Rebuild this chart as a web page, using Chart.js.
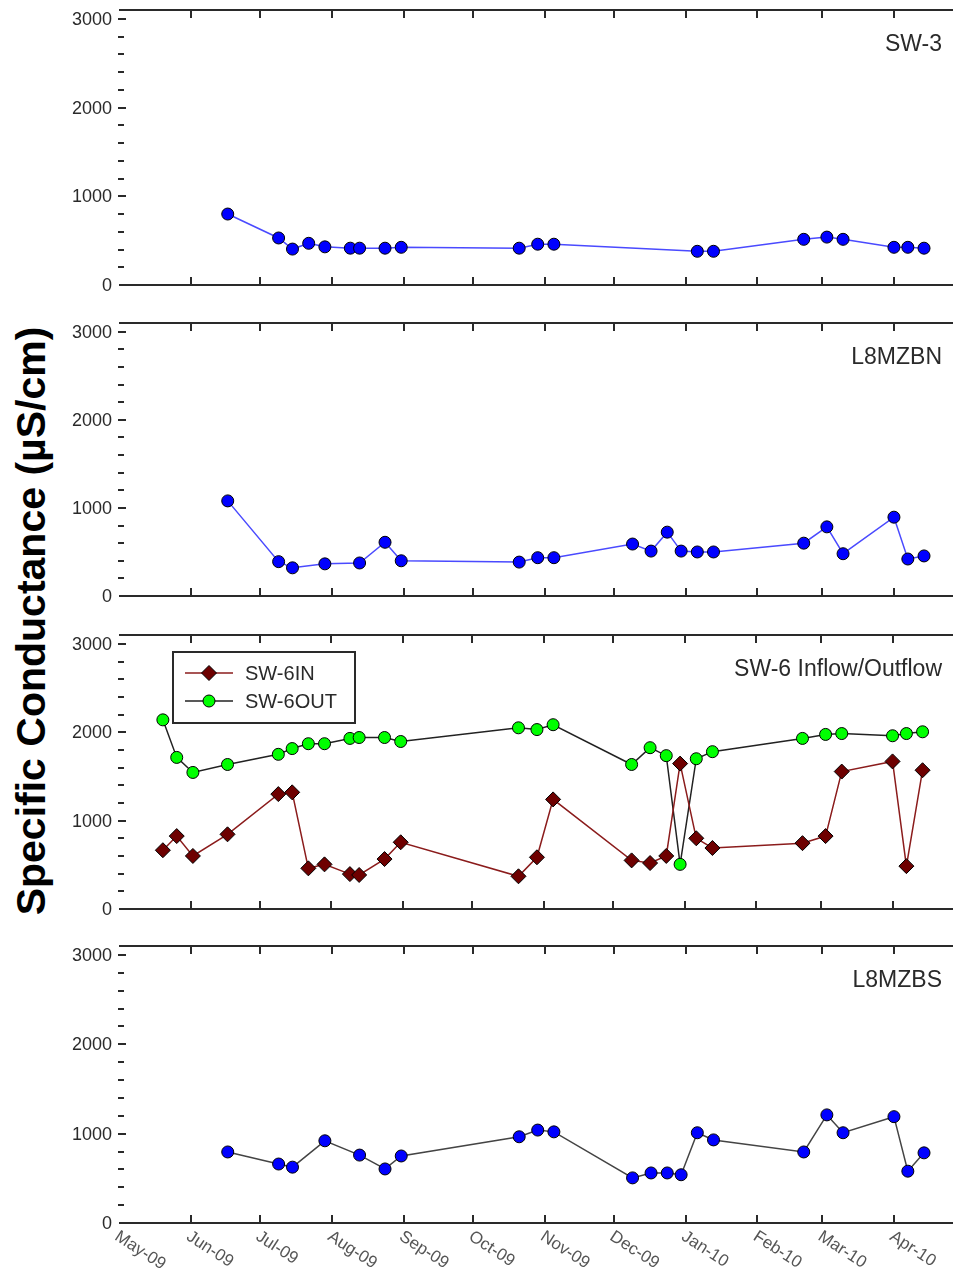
<!DOCTYPE html>
<html>
<head>
<meta charset="utf-8">
<script src="https://cdn.jsdelivr.net/npm/chart.js@4.4.0/dist/chart.umd.min.js"></script>
<style>
body{margin:0;background:#fff;width:953px;height:1272px;position:relative;overflow:hidden;font-family:"Liberation Sans",Arial,sans-serif}
canvas{position:absolute;left:0}
#ytitle{position:absolute;left:31px;top:621px;transform:translate(-50%,-50%) rotate(-90deg);font-weight:bold;font-size:41px;white-space:nowrap;color:#000}
</style>
</head>
<body>
<div id="ytitle">Specific Conductance (µS/cm)</div>
<canvas id="p1" width="953" height="300" style="top:0"></canvas>
<canvas id="p2" width="953" height="310" style="top:300px"></canvas>
<canvas id="p3" width="953" height="320" style="top:610px"></canvas>
<canvas id="p4" width="953" height="342" style="top:930px"></canvas>
<script>
// eje x: inicio de cada mes y su etiqueta
const monthStarts = ['2009-05-01','2009-06-01','2009-07-01','2009-08-01','2009-09-01','2009-10-01',
  '2009-11-01','2009-12-01','2010-01-01','2010-02-01','2010-03-01','2010-04-01'];
const monthLabels = ['May-09','Jun-09','Jul-09','Aug-09','Sep-09','Oct-09',
  'Nov-09','Dec-09','Jan-10','Feb-10','Mar-10','Apr-10'];
const yTicks = [0, 1000, 2000, 3000];

// fechas de muestreo (compartidas por todos los paneles)
const sampleDates = ['2009-05-20','2009-05-26','2009-06-02','2009-06-17','2009-07-09','2009-07-15',
  '2009-07-22','2009-07-29','2009-08-09','2009-08-13','2009-08-24','2009-08-31','2009-10-21',
  '2009-10-29','2009-11-05','2009-12-09','2009-12-17','2009-12-24','2009-12-30','2010-01-06',
  '2010-01-13','2010-02-21','2010-03-03','2010-03-10','2010-04-01','2010-04-07','2010-04-14'];

const sw3    = [null,null,null,800,530,405,470,430,415,415,415,425,415,460,460,null,null,null,null,380,380,515,540,515,425,425,415];
const l8mzbn = [null,null,null,1080,390,320,null,365,null,375,610,400,385,435,435,590,510,725,510,500,500,600,785,480,895,420,455];
const sw6in  = [665,825,600,845,1300,1320,460,505,395,385,565,755,370,585,1240,550,520,600,1645,800,690,745,825,1555,1670,485,1570];
const sw6out = [2140,1715,1545,1635,1750,1815,1870,1870,1930,1940,1940,1895,2050,2030,2085,1635,1825,1735,505,1700,1780,1930,1975,1985,1960,1985,2005];
const l8mzbs = [null,null,null,795,660,625,null,920,null,760,605,750,965,1040,1020,505,560,560,540,1010,930,795,1210,1010,1190,580,785];

const DAY0 = Date.UTC(2009, 4, 1);
function dayOf(s){
  const [y, m, d] = s.split('-').map(Number);
  return (Date.UTC(y, m - 1, d) - DAY0) / 86400000;
}
function pts(vals){
  return sampleDates.map((d, i) => ({x: dayOf(d), y: vals[i]})).filter(p => p.y !== null);
}

const FONT = '"Liberation Sans", Arial, sans-serif';
const INK = '#2a2a2a';

function marker(ctx, style, r, x, y, fill){
  ctx.beginPath();
  if (style === 'rectRot'){
    ctx.moveTo(x, y - r); ctx.lineTo(x + r, y); ctx.lineTo(x, y + r); ctx.lineTo(x - r, y); ctx.closePath();
  } else {
    ctx.arc(x, y, r, 0, Math.PI * 2);
  }
  ctx.fillStyle = fill; ctx.fill();
  ctx.lineWidth = 1; ctx.strokeStyle = '#000'; ctx.stroke();
}

// ejes, marcas y textos dibujados a mano
const panelDecor = {
  id: 'panelDecor',
  beforeDatasetsDraw(chart){
    const {ctx, chartArea: a, scales: {x, y}} = chart;
    const seg = (x1, y1, x2, y2) => { ctx.beginPath(); ctx.moveTo(x1, y1); ctx.lineTo(x2, y2); ctx.stroke(); };
    ctx.save();
    ctx.strokeStyle = INK; ctx.lineWidth = 2;
    seg(a.left, a.top, chart.width, a.top);
    seg(a.left, a.bottom, chart.width, a.bottom);
    monthStarts.forEach(s => {
      const px = Math.round(x.getPixelForValue(dayOf(s)));
      if (px < a.left + 3) return;
      seg(px, a.top, px, a.top + 8);
      seg(px, a.bottom, px, a.bottom - 8);
    });
    for (let v = 200; v <= 3000; v += 200){
      const py = Math.round(y.getPixelForValue(v));
      seg(a.left - 1, py, a.left + (v % 1000 === 0 ? 7 : 5), py);
    }
    ctx.restore();
  },
  afterDraw(chart, args, o){
    const {ctx, chartArea: a, scales: {x, y}} = chart;
    ctx.save();
    ctx.fillStyle = INK;
    ctx.font = '18px ' + FONT; ctx.textAlign = 'right'; ctx.textBaseline = 'middle';
    yTicks.forEach(v => ctx.fillText(String(v), a.left - 7, y.getPixelForValue(v) + 1));
    ctx.font = '23px ' + FONT;
    ctx.fillText(o.title, chart.width - 11, a.top + 35);

    if (o.months){
      ctx.font = '17px ' + FONT; ctx.fillStyle = '#555'; ctx.textAlign = 'left'; ctx.textBaseline = 'top';
      monthStarts.forEach((s, i) => {
        const px = x.getPixelForValue(dayOf(s));
        ctx.save();
        ctx.translate(px + 2, a.bottom + 5);
        ctx.rotate(33 * Math.PI / 180);
        ctx.fillText(monthLabels[i], 0, 0);
        ctx.restore();
      });
    }

    if (o.legend){
      const bx = a.left + 54, by = a.top + 17, bw = 182, bh = 71;
      ctx.fillStyle = '#fff'; ctx.fillRect(bx, by, bw, bh);
      ctx.strokeStyle = INK; ctx.lineWidth = 2; ctx.strokeRect(bx, by, bw, bh);
      chart.data.datasets.forEach((ds, i) => {
        const ry = by + 21 + i * 28;
        ctx.strokeStyle = ds.borderColor; ctx.lineWidth = 1.5;
        ctx.beginPath(); ctx.moveTo(bx + 12, ry); ctx.lineTo(bx + 60, ry); ctx.stroke();
        marker(ctx, ds.pointStyle, ds.pointRadius, bx + 36, ry, ds.pointBackgroundColor);
        ctx.fillStyle = INK; ctx.font = '20px ' + FONT; ctx.textAlign = 'left'; ctx.textBaseline = 'middle';
        ctx.fillText(ds.label, bx + 72, ry + 1);
      });
    }
    ctx.restore();
  }
};

function series(label, vals, line, fill, style, r){
  return {
    label, data: pts(vals),
    borderColor: line, borderWidth: 1.5,
    pointStyle: style, pointRadius: r, pointHoverRadius: r,
    pointBackgroundColor: fill, pointBorderColor: '#000', pointBorderWidth: 1,
    tension: 0, fill: false
  };
}

function makePanel(id, datasets, pad, deco){
  new Chart(document.getElementById(id), {
    type: 'line',
    data: {datasets},
    options: {
      responsive: false, animation: false,
      layout: {padding: pad},
      plugins: {legend: {display: false}, tooltip: {enabled: false}, panelDecor: deco},
      scales: {
        x: {type: 'linear', min: 0, max: 357.5, display: false},
        y: {min: 0, max: 3100, display: false}
      }
    },
    plugins: [panelDecor]
  });
}

makePanel('p1', [series('SW-3', sw3, '#4a4aff', '#0000ff', 'circle', 6)],
  {left: 119, right: 1, top: 10, bottom: 15}, {title: 'SW-3'});
makePanel('p2', [series('L8MZBN', l8mzbn, '#4a4aff', '#0000ff', 'circle', 6)],
  {left: 119, right: 1, top: 23, bottom: 14}, {title: 'L8MZBN'});
makePanel('p3', [
    series('SW-6IN', sw6in, '#8b1c1c', '#6e0000', 'rectRot', 7.5),
    series('SW-6OUT', sw6out, '#222', '#00ff00', 'circle', 6)
  ],
  {left: 119, right: 1, top: 25, bottom: 21}, {title: 'SW-6 Inflow/Outflow', legend: true});
makePanel('p4', [series('L8MZBS', l8mzbs, '#444', '#0000ff', 'circle', 6)],
  {left: 119, right: 1, top: 16, bottom: 49}, {title: 'L8MZBS', months: true});
</script>
</body>
</html>
